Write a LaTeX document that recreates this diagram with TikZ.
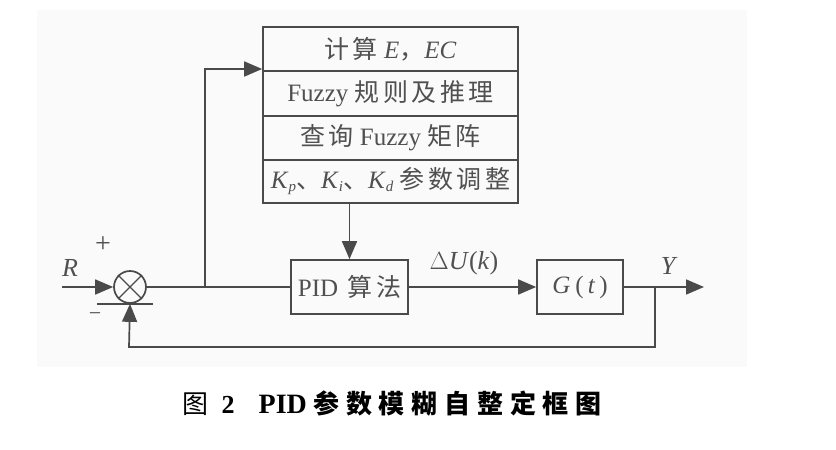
\documentclass[tikz,border=0pt]{standalone}
\usepackage{fontspec}
\setmainfont{Liberation Serif}
\newfontfamily\cjk[LetterSpace=14]{Noto Sans CJK SC}
\newfontfamily\cjkcap[LetterSpace=26]{Noto Sans CJK SC}
\usetikzlibrary{arrows.meta}
\definecolor{ink}{HTML}{4A4A4A}
\definecolor{txt}{HTML}{505050}
\definecolor{scan}{HTML}{FAFAFA}
\tikzset{
  ln/.style={draw=ink, line width=1.7pt},
  arr/.style={ln, -{Triangle[length=18pt,width=15pt]}},
  rowbox/.style={draw=ink, line width=1.7pt, minimum width=255pt, minimum height=44pt, inner sep=0pt, text=txt, font=\fontsize{25}{27}\selectfont},
  blk/.style={draw=ink, line width=1.7pt, inner sep=0pt, text=txt, font=\fontsize{25}{27}\selectfont},
  lbl/.style={text=txt, inner sep=0pt, font=\fontsize{26}{28}\selectfont\itshape},
}
\begin{document}
\begin{tikzpicture}[x=1pt,y=-1pt]
\useasboundingbox (0,0) rectangle (836,450);
\fill[scan] (37,10) rectangle (747,367);
% stack of four rows
\node[rowbox] (r1) at (390.5,49) {{\cjk 计算} \textit{E}{\cjk ，}\textit{EC}};
\node[rowbox, minimum height=45pt] (r2) at (390.5,93.5) {Fuzzy {\cjk 规则及推理}};
\node[rowbox] (r3) at (390.5,138) {{\cjk 查询} Fuzzy {\cjk 矩阵}};
\node[rowbox, minimum height=43pt] (r4) at (390.5,181.5) {\textit{K}\raisebox{-3pt}{\fontsize{15}{16}\selectfont\textit{p}}{\cjk 、}\textit{K}\raisebox{-3pt}{\fontsize{15}{16}\selectfont\textit{i}}{\cjk 、}\textit{K}\raisebox{-3pt}{\fontsize{15}{16}\selectfont\textit{d}} {\cjk 参数调整}};
% blocks
\node[blk, minimum width=117pt, minimum height=54pt] (pid) at (349.5,287) {PID\hspace{3pt} {\cjk 算法}};
\node[blk, minimum width=86pt, minimum height=54pt] (g) at (580,287) {\textit{G}\hspace{5pt}(\hspace{4pt}\textit{t}\hspace{4pt})};
\node[draw=ink, line width=1.7pt, circle, minimum size=32pt, inner sep=0pt] (sum) at (130,287) {};
\draw[ink, line width=1.3pt] (sum.north west) -- (sum.south east) (sum.north east) -- (sum.south west);
% coordinates
\coordinate (rin) at (62,287);
\coordinate (b1) at (205,287);
\coordinate (top) at (205,69);
\coordinate (b2) at (655,287);
\coordinate (out) at (704,287);
\coordinate (fb1) at (655,347);
\coordinate (fb2) at (129,347);
\coordinate (ul) at (97,304);
\coordinate (ur) at (153,304);
% connectors
\draw[arr] (rin) -- (sum.west);
\draw[ln] (sum.east) -- (pid.west);
\draw[arr] (b1) -- (top) -- (top -| r1.west);
\draw[arr] (pid |- r4.south) -- (pid.north);
\draw[arr] (pid.east) -- (g.west);
\draw[arr] (g.east) -- (out);
\draw[arr] (b2) -- (fb1) -- (fb2) -- (sum.south);
\draw[ink, line width=1.2pt] (ul) -- (ur);
% labels
\node[lbl] (lr) at (70,268) {R};
\node[text=txt, inner sep=0pt, font=\fontsize{28}{30}\selectfont] (lp) at (103,245) {+};
\node[text=txt, inner sep=0pt, font=\fontsize{22}{24}\selectfont] (lm) at (95,317) {−};
\node[lbl] (lu) at (464,263) {$\Delta$\textit{U}\textup{(}\textit{k}\textup{)}};
\node[lbl] (ly) at (668,266) {Y};
% caption
\node[inner sep=0pt, font=\fontsize{26}{28}\selectfont] (cap) at (392,404) {{\cjkcap 图} \textbf{2}\hspace{24pt}{\fontsize{28}{30}\selectfont\textbf{PID}} {\cjkcap\bfseries 参数模糊自整定框图}};
\end{tikzpicture}
\end{document}
